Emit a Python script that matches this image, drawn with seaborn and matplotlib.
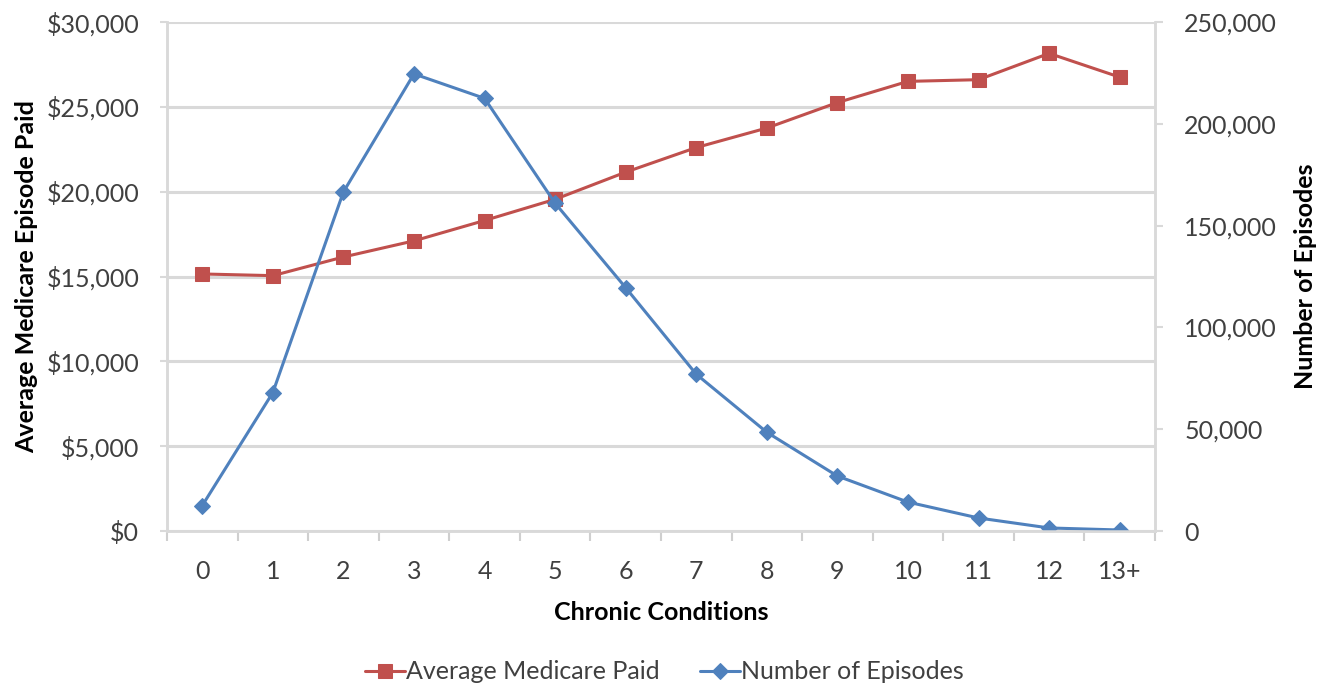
import matplotlib
matplotlib.use("Agg")
import matplotlib.pyplot as plt
import matplotlib.ticker as mticker
import seaborn as sns
import pandas as pd

categories = ["0", "1", "2", "3", "4", "5", "6", "7", "8", "9", "10", "11", "12", "13+"]
avg_paid = [15150, 15050, 16150, 17100, 18300, 19550, 21150, 22600, 23750, 25250, 26500, 26600, 28150, 26750]
episodes = [12500, 68000, 166500, 224500, 212500, 161000, 119500, 77000, 48500, 27000, 14200, 6400, 1500, 500]

left_ticks = [0, 5000, 10000, 15000, 20000, 25000, 30000]
right_ticks = [0, 50000, 100000, 150000, 200000, 250000]

RED = "#c0504d"
BLUE = "#4f81bd"
GRID = "#d9d9d9"
TXT = "#404040"
FS = 18

sns.set_theme(style="white")
plt.rcParams["font.family"] = ["Lato", "DejaVu Sans"]

df = pd.DataFrame({"cat": categories, "paid": avg_paid, "eps": episodes})

fig = plt.figure(figsize=(13.21, 6.85), dpi=100)
ax = fig.add_axes([0.1264, 0.2248, 0.8743 - 0.1264, 0.9679 - 0.2248])
ax2 = ax.twinx()

sns.lineplot(data=df, x="cat", y="paid", ax=ax, color=RED, marker="s", markersize=10.5,
             markeredgecolor=RED, linewidth=2.2, sort=False, label="Average Medicare Paid", legend=False)
sns.lineplot(data=df, x="cat", y="eps", ax=ax2, color=BLUE, marker="D", markersize=8,
             markeredgecolor=BLUE, linewidth=2.2, sort=False, label="Number of Episodes", legend=False)

ax.set_xlim(-0.5, len(categories) - 0.5)
ax.set_ylim(0, 30000)
ax2.set_ylim(0, 250000)
ax.set_yticks(left_ticks)
ax2.set_yticks(right_ticks)
ax.yaxis.set_major_formatter(mticker.FuncFormatter(lambda v, p: f"${v:,.0f}"))
ax2.yaxis.set_major_formatter(mticker.FuncFormatter(lambda v, p: f"{v:,.0f}"))

ax.set_xticks(range(len(categories)))
ax.set_xticklabels(categories)
ax.set_xticks([i - 0.5 for i in range(len(categories) + 1)], minor=True)
ax.tick_params(axis="x", which="major", length=0, pad=21, labelsize=FS, labelcolor=TXT)
ax.tick_params(axis="x", which="minor", length=7, width=1.5, color="#cfcfcf", bottom=True)
ax.tick_params(axis="y", which="major", length=5, width=1.5, color=GRID, pad=15,
               labelsize=FS, labelcolor=TXT, left=True)
ax2.tick_params(axis="y", which="major", length=6, width=1.5, color=GRID, pad=15,
                labelsize=FS, labelcolor=TXT, right=True)

ax.grid(axis="y", color=GRID, linewidth=2.2)
ax.set_axisbelow(True)
for a in (ax, ax2):
    a.spines["top"].set_visible(False)
    for s in ("left", "right", "bottom"):
        a.spines[s].set_color(GRID)
        a.spines[s].set_linewidth(1.8)

ax.set_xlabel("Chronic Conditions", fontsize=FS, fontweight="bold", color="#000000", labelpad=13)
ax.set_ylabel("Average Medicare Episode Paid", fontsize=FS, fontweight="bold", color="#000000", labelpad=6)
ax2.set_ylabel("Number of Episodes", fontsize=FS, fontweight="bold", color="#000000", labelpad=12)

h1, l1 = ax.get_legend_handles_labels()
h2, l2 = ax2.get_legend_handles_labels()
fig.legend(h1 + h2, l1 + l2, loc="center", bbox_to_anchor=(0.503, 0.019), ncol=2, frameon=False,
           fontsize=FS, handlelength=1.6, handletextpad=0.05, columnspacing=1.6, labelcolor=TXT)

fig.savefig("out.png", dpi=100)
